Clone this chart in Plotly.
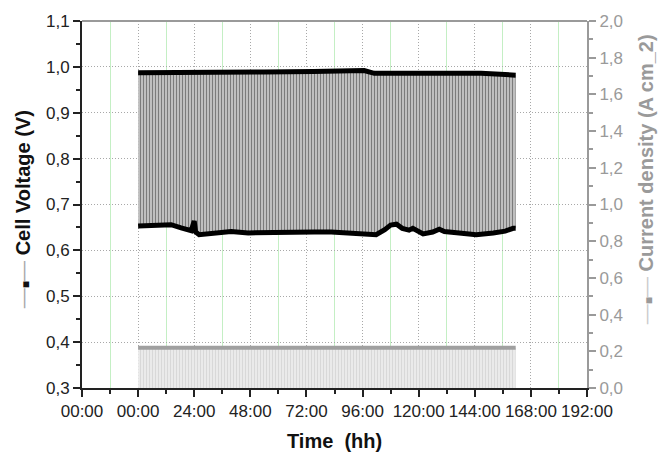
import plotly.graph_objects as go

# ---- data ----
x_tick_vals = [-24, 0, 24, 48, 72, 96, 120, 144, 168, 192]
x_tick_text = ["00:00", "00:00", "24:00", "48:00", "72:00", "96:00",
               "120:00", "144:00", "168:00", "192:00"]
x_minor_vals = [-12, 12, 36, 60, 84, 108, 132, 156, 180]

# cell voltage under load (lower envelope of the cycling), hours / V
v_load_t = [0, 5.6, 14.1, 18.4, 22.7, 24.0, 24.6, 26.1, 32.5, 39.8, 47.1, 53.9,
            61.2, 68.4, 75.3, 82.6, 89.0, 97.5, 101.8, 105.5, 108, 110.5, 113,
            115.9, 117.5, 121.9, 126, 128.8, 131, 137.3, 144.6, 151.9, 157,
            160.4, 161.5]
v_load = [0.653, 0.654, 0.656, 0.649, 0.643, 0.664, 0.640, 0.634, 0.638, 0.641,
          0.638, 0.639, 0.638, 0.640, 0.640, 0.640, 0.638, 0.633, 0.634, 0.645,
          0.655, 0.657, 0.648, 0.644, 0.648, 0.636, 0.640, 0.646, 0.641, 0.638,
          0.634, 0.638, 0.642, 0.648, 0.648]

# open-circuit voltage (upper envelope), hours / V
v_ocv_t = [0, 25.7, 53.9, 75, 96.7, 101, 125.3, 146.7, 161.5]
v_ocv = [0.987, 0.989, 0.989, 0.990, 0.992, 0.986, 0.986, 0.986, 0.982]

# current density, hours / A cm-2
j_t = [0, 161.5]
j_val = [0.22, 0.22]

FONT = "Liberation Sans, Arial, Helvetica, sans-serif"
GREY = "#9a9a9a"

fig = go.Figure()

# current density: cycling region and held current line
fig.add_trace(go.Scatter(
    x=j_t, y=j_val, yaxis="y2", mode="lines",
    line=dict(color="#a0a0a0", width=4),
    fill="tozeroy", fillcolor="rgba(0,0,0,0)",
    fillpattern=dict(shape="|", size=3, solidity=0.4,
                     fgcolor="#c4c4c4", bgcolor="#ececec"),
    showlegend=False, hoverinfo="skip"))

# voltage cycling region
fig.add_trace(go.Scatter(
    x=v_load_t, y=v_load, mode="lines", line=dict(width=0, color="black"),
    showlegend=False, hoverinfo="skip"))
fig.add_trace(go.Scatter(
    x=v_ocv_t, y=v_ocv, mode="lines", line=dict(width=0, color="black"),
    fill="tonexty", fillcolor="rgba(0,0,0,0)",
    fillpattern=dict(shape="|", size=3, solidity=0.4,
                     fgcolor="#303030", bgcolor="#c6c6c6"),
    showlegend=False, hoverinfo="skip"))

# envelopes drawn thick on top
fig.add_trace(go.Scatter(
    x=v_load_t, y=v_load, mode="lines", line=dict(width=5, color="black"),
    showlegend=False))
fig.add_trace(go.Scatter(
    x=v_ocv_t, y=v_ocv, mode="lines", line=dict(width=5, color="black"),
    showlegend=False))

fig.update_layout(
    width=666, height=456,
    margin=dict(l=82, r=79, t=12, b=68),
    paper_bgcolor="white", plot_bgcolor="white",
    separators=",.",
    font=dict(family=FONT, size=17, color="#222"),
    xaxis=dict(
        range=[-24, 192], tickmode="array", tickvals=x_tick_vals,
        ticktext=x_tick_text, ticks="outside", ticklen=7, tickwidth=1.5,
        tickcolor="#222", showline=True, linecolor="#222", linewidth=2,
        showgrid=True, gridcolor="#a8a8a8", griddash="1px,2px", gridwidth=1,
        zeroline=False,
        tickfont=dict(size=17, color="#222"),
        minor=dict(tickmode="array", tickvals=x_minor_vals, ticks="outside",
                   ticklen=4, tickwidth=1.5, tickcolor="#222",
                   showgrid=True, gridcolor="#c4efc4", gridwidth=1,
                   griddash="solid"),
    ),
    yaxis=dict(
        range=[0.3, 1.1], dtick=0.1, tick0=0.3, tickformat=".1f",
        ticks="outside", ticklen=7, tickwidth=1.5, tickcolor="#222",
        showline=True, linecolor="#222", linewidth=2,
        showgrid=True, gridcolor="#a8a8a8", griddash="1px,2px", gridwidth=1,
        zeroline=False, tickfont=dict(size=17, color="#222"),
        minor=dict(dtick=0.05, ticks="outside", ticklen=4, tickwidth=1.5,
                   tickcolor="#222", showgrid=False),
    ),
    yaxis2=dict(
        range=[0, 2.0], dtick=0.2, tick0=0, tickformat=".1f",
        overlaying="y", side="right",
        ticks="outside", ticklen=7, tickwidth=1.5, tickcolor=GREY,
        showline=True, linecolor=GREY, linewidth=2,
        showgrid=False, zeroline=False,
        tickfont=dict(size=17, color=GREY),
        minor=dict(dtick=0.1, ticks="outside", ticklen=4, tickwidth=1.5,
                   tickcolor=GREY, showgrid=False),
    ),
    shapes=[dict(type="line", xref="paper", yref="paper", x0=0, x1=1,
                 y0=1, y1=1, line=dict(color=GREY, width=2))],
    annotations=[
        dict(xref="paper", yref="paper", x=0.5, y=-0.144, showarrow=False,
             text="<b>Time  (hh)</b>", font=dict(size=20, color="#111"),
             xanchor="center", yanchor="middle"),
        dict(xref="paper", yref="paper", x=-0.117, y=0.487, showarrow=False,
             textangle=-90, xanchor="center", yanchor="middle",
             text="<span style='color:#aaa'>—</span><span style='font-size:12px'>■</span>"
                  "<span style='color:#aaa'>—</span> <b>Cell Voltage (V)</b>",
             font=dict(size=20, color="#111")),
        dict(xref="paper", yref="paper", x=1.117, y=0.569, showarrow=False,
             textangle=-90, xanchor="center", yanchor="middle",
             text="<span style='color:#ccc'>—</span><span style='font-size:12px'>■</span>"
                  "<span style='color:#ccc'>—</span> <b>Current density (A cm_2)</b>",
             font=dict(size=20, color=GREY)),
    ],
)

fig.write_html("out.html")
